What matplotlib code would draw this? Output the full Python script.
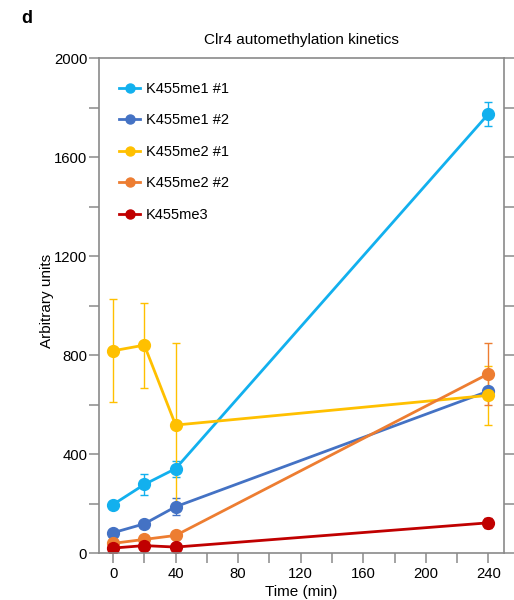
import matplotlib
matplotlib.use("Agg")
import matplotlib.pyplot as plt
from matplotlib.ticker import MultipleLocator
from matplotlib.lines import Line2D

plt.rcParams['font.family'] = ['Liberation Sans', 'DejaVu Sans']

time = [0, 20, 40, 240]
series_names = ["K455me1 #1", "K455me1 #2", "K455me2 #1", "K455me2 #2", "K455me3"]
colors = ["#12B0EE", "#4472C4", "#FFC000", "#ED7D31", "#C00000"]
me1_1 = [196, 277, 341, 1774]
me1_1_err = [0, 42, 32, 48]
me1_2 = [82, 118, 187, 654]
me1_2_err = [0, 0, 34, 8]
me2_1 = [817, 840, 517, 637]
me2_1_err = [208, 172, 330, 120]
me2_2 = [39, 55, 71, 724]
me2_2_err = [0, 0, 0, 124]
me3 = [20, 30, 24, 122]
me3_err = [0, 0, 0, 20]

values = [me1_1, me1_2, me2_1, me2_2, me3]
errors = [me1_1_err, me1_2_err, me2_1_err, me2_2_err, me3_err]

fig = plt.figure(figsize=(5.14, 6.0), dpi=100)
ax = fig.add_axes([0.1926, 0.0783, 0.788, 0.825])

handles = []
for name, c, v, e in zip(series_names, colors, values, errors):
    ax.errorbar(time, v, yerr=e, color=c, ecolor=c, elinewidth=1.0, capsize=3,
                capthick=1.0, lw=2, marker='o', markersize=8.5)
    handles.append(Line2D([], [], color=c, lw=2, marker='o', markersize=6.5, label=name))

ax.set_xlim(-9, 250)
ax.set_ylim(0, 2000)
ax.xaxis.set_major_locator(MultipleLocator(40))
ax.xaxis.set_minor_locator(MultipleLocator(20))
ax.yaxis.set_major_locator(MultipleLocator(400))
ax.yaxis.set_minor_locator(MultipleLocator(200))

gray = "#8a8a8a"
for s in ax.spines.values():
    s.set_color(gray)
    s.set_linewidth(1.2)
ax.tick_params(which='both', direction='out', colors=gray, labelcolor='black',
               labelsize=10.7, right=True, top=False, pad=1.5)
ax.tick_params(which='major', length=7, width=1.1)
ax.tick_params(which='minor', length=7, width=1.1)
ax.tick_params(axis='x', pad=3)

ax.set_xlabel("Time (min)", fontsize=11, labelpad=3)
ax.set_ylabel("Arbitrary units", fontsize=11, labelpad=0)
ax.yaxis.label.set_y(0.51)
ax.set_title("Clr4 automethylation kinetics", fontsize=11, pad=10)

ax.legend(handles=handles, loc='upper left', frameon=False, fontsize=10.5, labelspacing=1.2,
          handlelength=1.45, handletextpad=0.4, borderaxespad=0.0,
          bbox_to_anchor=(0.035, 0.964))

fig.text(0.041, 0.983, "d", fontsize=13, fontweight='bold', va='top')

fig.savefig("out.png", dpi=100)
